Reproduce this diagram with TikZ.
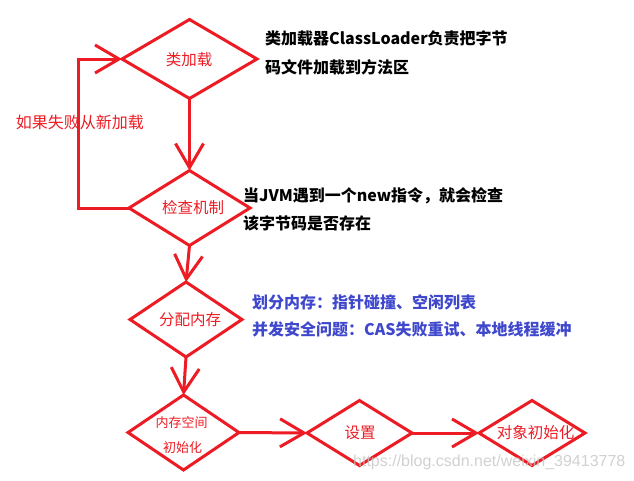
\documentclass[tikz,border=0pt]{standalone}
\usepackage{fontspec}
\newfontfamily\cjk{Noto Sans CJK SC}
\newfontfamily\wmfont{Liberation Sans}
\usetikzlibrary{shapes.geometric,arrows.meta}
\definecolor{pred}{RGB}{237,28,36}
\definecolor{pblue}{RGB}{63,72,204}
\begin{document}
\begin{tikzpicture}[x=1pt,y=-1pt,
  dia/.style={diamond,draw=pred,line width=3pt,inner sep=0pt,outer sep=0pt},
  flow/.style={draw=pred,line width=3pt,-{Straight Barb[length=24pt,width=28pt]}},
  dtext/.style={text=pred,font=\cjk\fontsize{15.5}{18}\selectfont,inner sep=0pt},
  stext/.style={text=pred,font=\cjk\fontsize{13}{15}\selectfont,inner sep=0pt},
  note/.style={font=\cjk\bfseries\fontsize{16}{19}\selectfont,anchor=base west,inner sep=0pt},
]
\useasboundingbox[fill=white] (0,0) rectangle (634,480);

% diamonds
\node[dia,minimum width=135pt,minimum height=79pt] (d1) at (189.5,59) {};
\node[dia,minimum width=121pt,minimum height=75pt] (d2) at (189.5,208) {};
\node[dia,minimum width=112pt,minimum height=75pt] (d3) at (186,319.5) {};
\node[dia,minimum width=111pt,minimum height=75pt] (d4) at (183.5,432.5) {};
\node[dia,minimum width=105pt,minimum height=65pt] (d5) at (359.5,433) {};
\node[dia,minimum width=106pt,minimum height=65pt] (d6) at (532,433) {};

% diamond texts
\node[dtext] (t1) at (189,60) {类加载};
\node[dtext] (t2) at (193,208) {检查机制};
\node[dtext] (t3) at (190,320) {分配内存};
\node[stext] (t4a) at (181.5,423) {内存空间};
\node[stext] (t4b) at (182.5,448) {初始化};
\node[dtext] (t5) at (360,433) {设置};
\node[dtext] (t6) at (535.5,433) {对象初始化};

% connectors
\draw[flow] (d1.south) -- (d2.north);
\draw[flow] (d2.south) -- (d3.north);
\draw[flow] (d3.south) -- (d4.north);
\draw[flow] (d4.east) -- (d5.west);
\draw[flow] (d5.east) -- (d6.west);
\coordinate (lp) at (78,130);
\draw[flow] (d2.west) -| (lp) |- (d1.west);

% loop label
\node[text=pred,font=\cjk\fontsize{16}{19}\selectfont,inner sep=0pt,anchor=base] (loopl) at (80,128) {如果失败从新加载};

% notes
\node[note] (n1a) at (265,44) {类加载器ClassLoader负责把字节};
\node[note] (n1b) at (265,73) {码文件加载到方法区};
\node[note] (n2a) at (243,201) {当JVM遇到一个new指令，就会检查};
\node[note] (n2b) at (243,229) {该字节码是否存在};
\node[note,text=pblue] (n3a) at (252,308) {划分内存：指针碰撞、空闲列表};
\node[note,text=pblue] (n3b) at (252,335) {并发安全问题：CAS失败重试、本地线程缓冲};

% watermark
\node[text=gray!45,opacity=0.8,font=\wmfont\fontsize{16}{19}\selectfont,inner sep=0pt,anchor=base west] (wm) at (353,466) {https://blog.csdn.net/weixin\_39413778};
\end{tikzpicture}
\end{document}
